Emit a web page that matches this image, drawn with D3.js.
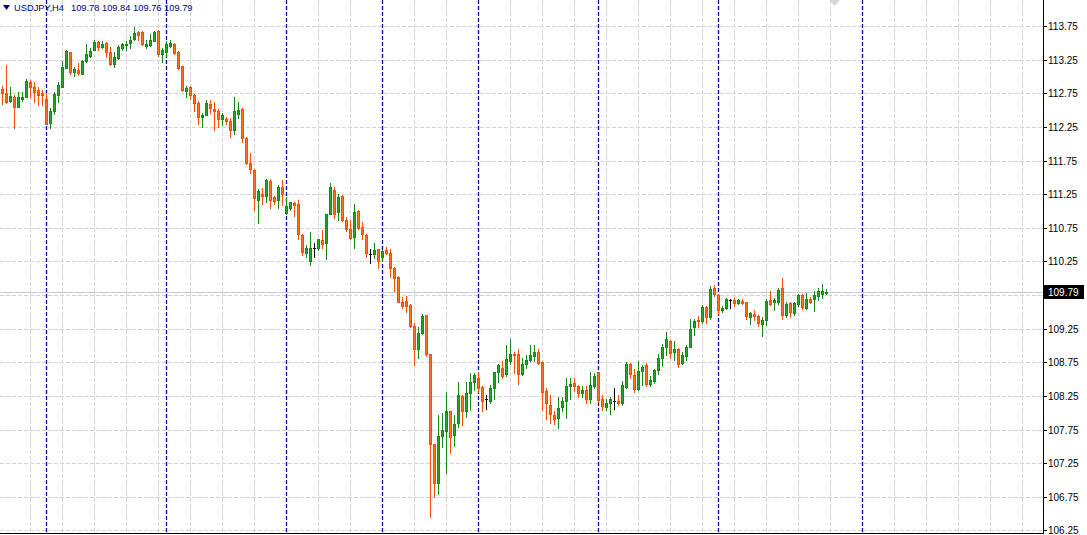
<!DOCTYPE html>
<html><head><meta charset="utf-8">
<script src="https://cdn.jsdelivr.net/npm/d3@7"></script>
<style>body{margin:0;background:#fff}svg{display:block}</style>
</head><body>
<svg id="chart" width="1087" height="535"></svg>
<script>
// ---- data (USDJPY H4, bar index 0..206) ----
const openP=[112.82,112.76,112.64,112.69,112.55,112.66,112.70,112.92,112.85,112.80,112.75,112.67,112.31,112.49,112.73,112.85,113.13,113.36,113.07,113.10,
113.03,113.23,113.31,113.40,113.51,113.44,113.49,113.36,113.19,113.27,113.43,113.47,113.49,113.55,113.66,113.66,113.46,113.47,113.53,113.67,
113.33,113.37,113.45,113.48,113.36,113.15,112.79,112.84,112.72,112.61,112.39,112.43,112.59,112.52,112.49,112.37,112.37,112.34,112.21,112.44,
112.52,112.09,111.72,111.61,111.17,111.25,111.22,111.45,111.20,111.16,111.36,110.97,111.05,111.12,111.10,110.64,110.37,110.26,110.45,110.45,
110.57,110.53,110.96,111.31,110.98,111.22,110.87,110.73,110.62,111.00,110.76,110.64,110.36,110.36,110.43,110.31,110.42,110.37,110.15,110.02,
109.65,109.66,109.60,109.29,108.94,109.18,109.45,108.87,107.53,106.95,107.66,107.73,108.03,107.67,107.84,108.25,108.03,108.30,108.45,108.51,
108.38,108.20,108.18,108.36,108.60,108.67,108.57,108.77,108.88,108.88,108.57,108.73,108.78,108.85,108.90,108.76,108.32,108.11,107.97,107.92,
108.08,108.17,108.39,108.44,108.40,108.30,108.34,108.20,108.39,108.60,108.20,108.09,108.14,108.18,108.18,108.14,108.38,108.73,108.56,108.35,
108.62,108.71,108.42,108.47,108.64,108.81,108.97,109.07,108.90,108.94,108.74,108.84,108.98,109.28,109.38,109.37,109.57,109.42,109.85,109.75,
109.52,109.55,109.68,109.67,109.63,109.66,109.64,109.43,109.47,109.44,109.32,109.38,109.68,109.64,109.65,109.85,109.46,109.63,109.48,109.61,
109.75,109.56,109.69,109.69,109.74,109.77,109.78];
const highP=[112.86,113.17,112.85,112.72,112.77,112.77,112.96,112.94,112.92,112.85,112.80,112.75,112.53,112.77,112.92,113.23,113.39,113.37,113.14,113.20,
113.25,113.48,113.43,113.54,113.53,113.53,113.51,113.44,113.37,113.47,113.49,113.52,113.60,113.74,113.67,113.68,113.54,113.63,113.68,113.69,
113.43,113.52,113.54,113.49,113.38,113.15,112.86,112.86,112.74,112.63,112.46,112.65,112.65,112.62,112.51,112.46,112.40,112.38,112.69,112.62,
112.53,112.10,111.86,111.63,111.32,111.34,111.47,111.47,111.22,111.39,111.46,111.21,111.14,111.14,111.16,110.65,110.50,110.68,110.52,110.59,
110.72,110.96,111.41,111.35,111.25,111.24,110.91,110.87,111.11,111.01,110.84,110.65,110.44,110.53,110.43,110.42,110.47,110.43,110.16,110.03,
109.72,109.74,109.62,109.34,109.28,109.47,109.46,108.88,107.54,107.97,107.99,108.31,108.03,107.97,108.46,108.27,108.46,108.59,108.59,108.61,
108.40,108.27,108.41,108.61,108.73,108.77,109.01,109.10,108.90,108.95,108.82,108.86,109.01,109.01,108.94,108.77,108.36,108.26,108.02,108.23,
108.23,108.51,108.51,108.51,108.41,108.39,108.39,108.60,108.59,108.61,108.26,108.21,108.24,108.36,108.26,108.47,108.76,108.74,108.65,108.77,
108.71,108.74,108.55,108.65,108.88,109.02,109.20,109.08,109.07,108.96,108.91,109.01,109.40,109.40,109.44,109.60,109.58,109.88,109.90,109.76,
109.58,109.70,109.69,109.70,109.69,109.69,109.65,109.50,109.53,109.45,109.43,109.69,109.81,109.71,109.86,110.01,109.64,109.64,109.64,109.76,
109.76,109.78,109.72,109.81,109.86,109.91,109.84];
const lowP=[112.59,112.60,112.62,112.24,112.55,112.63,112.69,112.70,112.62,112.58,112.58,112.30,112.24,112.44,112.62,112.84,113.12,113.04,113.01,113.02,
113.03,113.22,113.29,113.39,113.40,113.43,113.29,113.17,113.14,113.26,113.39,113.39,113.43,113.54,113.54,113.47,113.42,113.45,113.52,113.31,
113.22,113.31,113.44,113.34,113.11,112.78,112.69,112.66,112.48,112.30,112.25,112.42,112.45,112.20,112.25,112.28,112.30,112.10,112.15,112.38,
112.02,111.70,111.56,111.01,110.82,111.10,111.14,111.05,111.11,111.04,111.09,110.96,111.02,110.92,110.59,110.35,110.32,110.19,110.32,110.42,
110.45,110.29,110.95,110.90,110.87,110.85,110.70,110.58,110.45,110.73,110.58,110.32,110.22,110.30,110.15,110.26,110.36,110.02,109.81,109.64,
109.56,109.50,109.28,108.71,108.82,109.17,108.85,106.45,106.74,106.79,107.49,107.10,107.40,107.50,107.79,107.81,107.93,108.04,108.34,108.31,
108.02,108.06,108.14,108.20,108.46,108.51,108.55,108.72,108.59,108.43,108.56,108.67,108.77,108.77,108.72,108.04,107.90,107.84,107.83,107.77,
108.02,107.92,108.20,108.33,108.23,108.24,108.14,108.14,108.36,108.16,108.04,108.04,107.98,108.06,108.12,108.12,108.36,108.51,108.31,108.34,
108.41,108.40,108.40,108.44,108.58,108.69,108.86,108.82,108.78,108.68,108.72,108.79,108.97,109.15,109.28,109.33,109.34,109.40,109.73,109.47,
109.49,109.54,109.56,109.58,109.62,109.61,109.39,109.32,109.38,109.29,109.14,109.31,109.60,109.52,109.61,109.40,109.43,109.42,109.46,109.59,
109.54,109.54,109.63,109.51,109.68,109.71,109.76];
const closeP=[112.76,112.62,112.71,112.55,112.69,112.70,112.93,112.85,112.77,112.73,112.72,112.30,112.49,112.74,112.87,113.14,113.38,113.07,113.11,113.05,
113.23,113.33,113.38,113.51,113.44,113.48,113.36,113.19,113.29,113.44,113.48,113.48,113.54,113.64,113.62,113.48,113.48,113.54,113.66,113.33,
113.39,113.48,113.50,113.35,113.12,112.80,112.83,112.72,112.60,112.40,112.43,112.60,112.53,112.49,112.36,112.42,112.34,112.21,112.48,112.50,
112.09,111.72,111.62,111.19,111.30,111.22,111.46,111.16,111.15,111.35,111.25,111.07,111.13,111.09,110.65,110.39,110.45,110.45,110.45,110.58,
110.51,110.95,111.35,110.96,111.20,110.87,110.73,110.60,110.98,110.74,110.65,110.37,110.36,110.42,110.26,110.40,110.38,110.15,110.01,109.65,
109.58,109.59,109.29,108.94,109.19,109.44,108.88,107.53,106.96,107.65,107.74,108.03,107.64,107.83,108.26,108.02,108.30,108.45,108.56,108.36,
108.18,108.20,108.36,108.60,108.71,108.55,108.80,108.87,108.87,108.58,108.73,108.79,108.86,108.91,108.74,108.31,108.15,107.98,107.90,108.07,
108.18,108.40,108.43,108.39,108.30,108.34,108.20,108.41,108.55,108.19,108.10,108.14,108.21,108.18,108.15,108.41,108.72,108.57,108.35,108.62,
108.68,108.42,108.49,108.64,108.81,108.97,109.09,108.89,108.95,108.73,108.86,108.97,109.25,109.37,109.36,109.57,109.43,109.84,109.76,109.52,
109.55,109.69,109.68,109.63,109.68,109.63,109.44,109.48,109.44,109.33,109.38,109.66,109.62,109.68,109.83,109.46,109.62,109.49,109.63,109.75,
109.57,109.69,109.64,109.75,109.81,109.81,109.79];
const priceTicks=["113.75","113.25","112.75","112.25","111.75","111.25","110.75","110.25","109.75","109.25","108.75","108.25","107.75","107.25","106.75","106.25"];
const separatorBars=[11,41,71,95,119,149,179,215];
const symbolName="USDJPY,H4";
const lastQuote=["109.78","109.84","109.76","109.79"];
const currentPrice=109.79;

// ---- layout ----
const W=1087,H=535,plotR=1043,plotB=533;
const svg=d3.select("#chart");
const x=d3.scaleLinear().domain([0,1]).range([2.5,6.5]);
const y=d3.scaleLinear().domain([106.25,113.75]).range([530.4,26]);
const FONT="'Liberation Sans',Arial,sans-serif";

const grid=svg.append("g");
// horizontal grid
grid.selectAll("line.h").data(priceTicks).join("line")
  .attr("x1",0).attr("x2",plotR)
  .attr("y1",d=>Math.round(y(+d))+0.5).attr("y2",d=>Math.round(y(+d))+0.5)
  .attr("stroke","#d3d3d3").attr("stroke-dasharray","4,2");
// vertical grid every 8 bars
const vIdx=d3.range(7,260,8).filter(i=>x(i)<plotR);
grid.selectAll("line.v").data(vIdx).join("line")
  .attr("x1",d=>x(d)).attr("x2",d=>x(d)).attr("y1",0).attr("y2",plotB)
  .attr("stroke","#d3d3d3").attr("stroke-dasharray","4,2");
// period separators
grid.selectAll("line.s").data(separatorBars).join("line")
  .attr("x1",d=>x(d)).attr("x2",d=>x(d)).attr("y1",0).attr("y2",plotB)
  .attr("stroke","#0000a8").attr("stroke-width",1.3).attr("stroke-dasharray","4,2");
// current price line
grid.append("line").attr("x1",0).attr("x2",plotR)
  .attr("y1",Math.round(y(currentPrice))+0.5).attr("y2",Math.round(y(currentPrice))+0.5)
  .attr("stroke","#c8c8c8");

// ---- candles ----
const bars=d3.range(openP.length).map(i=>({i,o:openP[i],h:highP[i],l:lowP[i],c:closeP[i]}));
const kind=d=>d.c>d.o?"up":(d.c<d.o?"dn":"doji");
const strokeC={up:"#16881a",dn:"#ff4b00",doji:"#000000"};
const fillC={up:"#2aa52e",dn:"#ff7417",doji:"#000000"};
const cg=svg.append("g");
cg.selectAll("line.w").data(bars).join("line")
  .attr("x1",d=>x(d.i)).attr("x2",d=>x(d.i))
  .attr("y1",d=>Math.round(y(d.h))).attr("y2",d=>Math.round(y(d.l))+1)
  .attr("stroke",d=>strokeC[kind(d)]);
cg.selectAll("rect.b").data(bars.filter(d=>kind(d)!=="doji")).join("rect")
  .attr("x",d=>x(d.i)-1).attr("width",2)
  .attr("y",d=>Math.round(y(Math.max(d.o,d.c)))+0.5)
  .attr("height",d=>Math.max(1,Math.round(y(Math.min(d.o,d.c)))-Math.round(y(Math.max(d.o,d.c)))))
  .attr("fill",d=>fillC[kind(d)]).attr("stroke",d=>strokeC[kind(d)]);
cg.selectAll("line.d").data(bars.filter(d=>kind(d)==="doji")).join("line")
  .attr("x1",d=>x(d.i)-1.5).attr("x2",d=>x(d.i)+1.5)
  .attr("y1",d=>Math.round(y(d.o))+0.5).attr("y2",d=>Math.round(y(d.o))+0.5)
  .attr("stroke","#000");

// ---- frame & axis ----
svg.append("line").attr("x1",plotR+0.5).attr("x2",plotR+0.5).attr("y1",0).attr("y2",plotB+1).attr("stroke","#000");
svg.append("line").attr("x1",0).attr("x2",plotR+1).attr("y1",plotB+0.5).attr("y2",plotB+0.5).attr("stroke","#000");
const ax=svg.append("g");
ax.selectAll("line").data(priceTicks).join("line")
  .attr("x1",plotR).attr("x2",plotR+4)
  .attr("y1",d=>Math.round(y(+d))+0.5).attr("y2",d=>Math.round(y(+d))+0.5).attr("stroke","#000");
ax.selectAll("text").data(priceTicks.filter(t=>Math.abs(+t-currentPrice)>0.08)).join("text")
  .attr("x",plotR+5).attr("y",d=>y(+d)+4).text(d=>d)
  .attr("font-family",FONT).attr("font-size",10).attr("fill","#000");
// current price tag
const cy=Math.round(y(currentPrice));
svg.append("rect").attr("x",plotR+1).attr("y",cy-7).attr("width",40).attr("height",14).attr("fill","#000");
svg.append("text").attr("x",plotR+5).attr("y",cy+4).text(currentPrice.toFixed(2))
  .attr("font-family",FONT).attr("font-size",10).attr("fill","#fff");

// ---- header ----
svg.append("path").attr("d","M3,5 L10,5 L6.5,10 Z").attr("fill","#000080");
svg.append("text").attr("x",14).attr("y",11).text(symbolName)
  .attr("font-family",FONT).attr("font-size",9.3).attr("fill","#000080");
svg.append("text").attr("x",71).attr("y",11).text(lastQuote.join(" "))
  .attr("font-family",FONT).attr("font-size",9.3).attr("fill","#000080");
// chart shift marker
svg.append("path").attr("d","M829,0 L840,0 L834.5,6 Z").attr("fill","#d8d8d8");
</script>
</body></html>
